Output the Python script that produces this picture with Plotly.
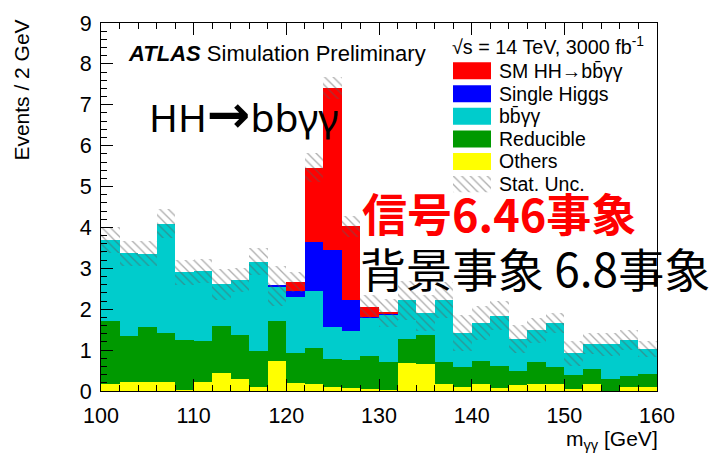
import plotly.graph_objects as go

# m_yy binning: 30 bins of 2 GeV between 100 and 160 GeV
bin_low = list(range(100, 160, 2))
bin_centers = [b + 1 for b in bin_low]

# Expected events per bin for each process (stacked from bottom to top)
others = [0.17, 0.21, 0.21, 0.22, 0.02, 0.22, 0.43, 0.29, 0.10, 0.73,
          0.20, 0.18, 0.10, 0.08, 0.04, 0.02, 0.69, 0.66, 0.16, 0.10,
          0.18, 0.08, 0.14, 0.16, 0.18, 0.05, 0.16, 0.01, 0.10, 0.10]
reducible = [1.53, 1.13, 1.35, 1.19, 1.23, 1.01, 1.16, 1.07, 0.88, 0.97,
             0.73, 0.86, 0.68, 0.68, 0.81, 0.70, 0.59, 0.70, 0.56, 0.48,
             0.56, 0.54, 0.35, 0.56, 0.40, 0.33, 0.38, 0.28, 0.27, 0.31]
bbyy = [1.99, 2.03, 1.80, 2.68, 1.65, 1.70, 1.02, 1.35, 2.18, 0.85,
        1.38, 1.41, 0.78, 0.70, 0.95, 1.16, 0.94, 0.54, 1.50, 0.84,
        0.92, 1.22, 0.79, 0.76, 1.08, 0.54, 0.62, 0.85, 0.87, 0.61]
single_higgs = [0, 0, 0, 0, 0, 0, 0, 0, 0, 0.02,
                0.13, 1.20, 1.89, 0.77, 0.02, 0.01, 0, 0, 0, 0,
                0, 0, 0, 0, 0, 0, 0, 0, 0, 0]
sm_hh = [0, 0, 0, 0, 0, 0, 0, 0, 0, 0,
         0.23, 1.81, 3.97, 1.80, 0.24, 0.02, 0, 0, 0, 0,
         0, 0, 0, 0, 0, 0, 0, 0, 0, 0]
stat_unc = [0.32, 0.31, 0.31, 0.36, 0.31, 0.29, 0.38, 0.30, 0.33, 0.48,
            0.25, 0.35, 0.27, 0.26, 0.28, 0.34, 0.48, 0.44, 0.44, 0.45,
            0.42, 0.36, 0.34, 0.30, 0.25, 0.30, 0.26, 0.28, 0.24, 0.20]

process_names = ["Others", "Reducible", "bb\u0304γγ", "Single Higgs", "SM HH→bb\u0304γγ"]
process_values = [others, reducible, bbyy, single_higgs, sm_hh]
process_colors = ["#FFFF00", "#009900", "#00CCCC", "#0000FF", "#FF0000"]

legend_labels = ["SM HH→bb\u0304γγ", "Single Higgs", "bb\u0304γγ", "Reducible", "Others", "Stat. Unc."]
legend_colors = ["#FF0000", "#0000FF", "#00CCCC", "#009900", "#FFFF00", None]

W, H = 712, 462
L, R, T, B = 101, 657, 15, 391  # plot frame in pixels


def px(x):
    return (x - L) / (R - L)


def py(y):
    return (B - y) / (B - T)


HATCH = dict(shape="\\", fgcolor="#5c5c5c", bgcolor="rgba(0,0,0,0)",
             size=6, solidity=0.22)

fig = go.Figure()

# stacked histogram built from explicit bases
base = [0.0] * len(bin_centers)
for name, vals, col in zip(process_names, process_values, process_colors):
    fig.add_trace(go.Bar(
        x=bin_centers, y=vals, base=list(base), width=2,
        marker=dict(color=col, line=dict(width=0)),
        name=name, showlegend=False, hoverinfo="skip"))
    base = [b + v for b, v in zip(base, vals)]
total = base

# statistical uncertainty band around the total
fig.add_trace(go.Bar(
    x=bin_centers,
    y=[2 * u for u in stat_unc],
    base=[t - u for t, u in zip(total, stat_unc)],
    width=2,
    marker=dict(color="rgba(0,0,0,0)", line=dict(width=0), pattern=HATCH),
    showlegend=False, hoverinfo="skip"))

# hatched swatch for the legend, on a hidden helper axis
sw_x0, sw_x1, sw_y0, sw_y1 = 453, 491, 171, 188
fig.add_trace(go.Bar(
    x=[0.5], y=[1], width=1, xaxis="x2", yaxis="y2",
    marker=dict(color="rgba(0,0,0,0)", line=dict(width=0), pattern=HATCH),
    showlegend=False, hoverinfo="skip"))

TXT = "Liberation Sans, Arial, Helvetica, sans-serif"
CJK = "Noto Sans CJK JP, Noto Sans CJK SC, sans-serif"

fig.update_layout(
    width=W, height=H,
    margin=dict(l=L, r=W - R, t=T, b=H - B, pad=0),
    paper_bgcolor="white", plot_bgcolor="white",
    barmode="overlay", bargap=0,
    showlegend=False,
    font=dict(family=TXT, color="black"),
    xaxis=dict(
        range=[100, 160], tickmode="linear", tick0=100, dtick=10,
        ticks="inside", ticklen=12, tickwidth=1, tickcolor="black",
        minor=dict(dtick=2, ticks="inside", ticklen=6, tickcolor="black"),
        showline=True, linecolor="black", linewidth=1, mirror="ticks",
        showgrid=False, zeroline=False,
        tickfont=dict(size=21.5, family=TXT), ticklabelstandoff=5),
    yaxis=dict(
        range=[0, 9], tickmode="linear", tick0=0, dtick=1,
        ticks="inside", ticklen=12, tickwidth=1, tickcolor="black",
        minor=dict(dtick=0.2, ticks="inside", ticklen=6, tickcolor="black"),
        showline=True, linecolor="black", linewidth=1, mirror=True,
        showgrid=False, zeroline=False,
        tickfont=dict(size=21.5, family=TXT), ticklabelstandoff=4),
    xaxis2=dict(domain=[px(sw_x0), px(sw_x1)], range=[0, 1], visible=False,
                anchor="y2", fixedrange=True),
    yaxis2=dict(domain=[py(sw_y1), py(sw_y0)], range=[0, 1], visible=False,
                anchor="x2", fixedrange=True),
)

shapes = []
ann = []


def label(text, x, y, size, xanchor="left", yanchor="middle", family=TXT,
          color="black", angle=0):
    ann.append(dict(text=text, x=px(x), y=py(y), xref="paper", yref="paper",
                    xanchor=xanchor, yanchor=yanchor, showarrow=False,
                    textangle=angle, font=dict(size=size, family=family, color=color)))


# legend header and entries
label("√s = 14 TeV, 3000 fb<sup>-1</sup>", 450, 38, 19.8)
row_centers = [63.8, 87.2, 110.2, 133.5, 156.5, 179.6]
for lab, col, yc in zip(legend_labels, legend_colors, row_centers):
    if col is not None:
        shapes.append(dict(type="rect", xref="paper", yref="paper",
                           x0=px(453), x1=px(491), y0=py(yc + 8.7), y1=py(yc - 8.7),
                           fillcolor=col, line=dict(width=0)))
    label(lab, 497, yc, 19.5)

# experiment label
label("<b><i>ATLAS</i></b> Simulation Preliminary", 126, 46, 22)

# axis titles
label("Events / 2 GeV", 22, 10, 21, xanchor="center", yanchor="top", angle=-90)
label("m<sub>γγ</sub> [GeV]", 660, 441, 21, xanchor="right")

# overlaid slide text
label("HH<span style='font-size:52px'><b>→</b></span>bbγγ", 147, 105, 39,
      family="Noto Sans, DejaVu Sans")
label("<b>信号6.46事象</b>", 360, 209, 45, family=CJK, color="#FF0000")
label("背景事象 6.8事象", 358, 264, 46, family=CJK)

fig.update_layout(shapes=shapes, annotations=ann)

fig.write_html("out.html")
